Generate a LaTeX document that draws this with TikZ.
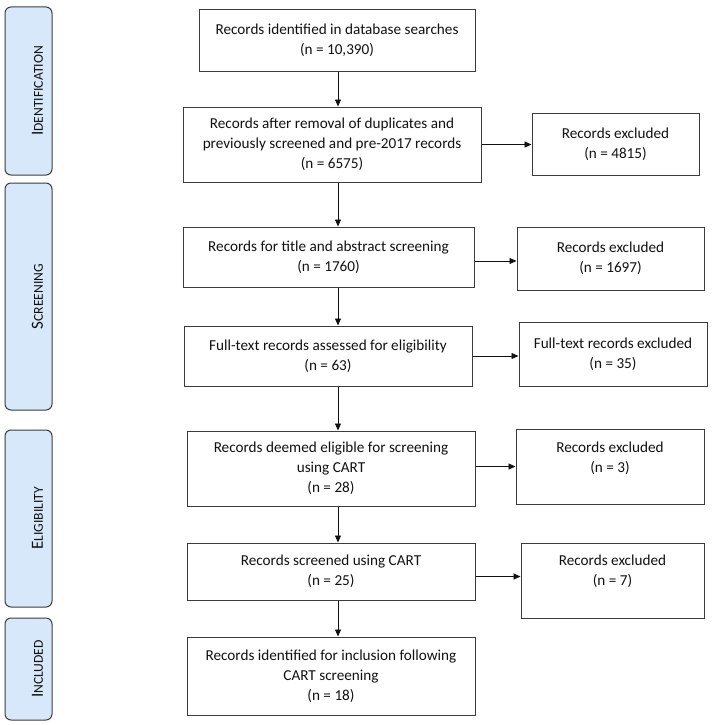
\documentclass[tikz,border=0pt]{standalone}
\usepackage{fontspec}
\setmainfont{Carlito}
\usetikzlibrary{arrows.meta,calc}
\definecolor{edge}{HTML}{3C3C3C}
\definecolor{phasefill}{HTML}{D6E8FA}
\definecolor{ink}{HTML}{111111}
\tikzset{
  box/.style={draw=edge, line width=1pt, rectangle, inner sep=0pt, align=center,
    font=\fontsize{15.2}{20}\selectfont, text=ink},
  phase/.style={draw=edge, line width=1pt, rectangle, rounded corners=6pt, fill=phasefill, inner sep=0pt},
  phaselabel/.style={rotate=90, text=ink, inner sep=0pt},
  arr/.style={draw=ink, line width=0.9pt, -{Triangle[length=7pt,width=6pt]}},
}
\newcommand{\fsc}[2]{{\fontsize{17}{18}\selectfont #1}{\fontsize{13.6}{14}\selectfont #2}}
\begin{document}
\begin{tikzpicture}[x=1pt,y=1pt]
\useasboundingbox (0,0) rectangle (716,-725);
% phases
\node[phase, minimum width=47, minimum height=168] (pid) at (28.5,-91) {};
\node[phase, minimum width=47, minimum height=227] (psc) at (28.5,-296.5) {};
\node[phase, minimum width=47, minimum height=177] (pel) at (28.5,-518.5) {};
\node[phase, minimum width=47, minimum height=102] (pin) at (28.5,-669) {};
\node[phaselabel] (lid) at ([xshift=9]pid.center) {\fsc{I}{DENTIFICATION}};
\node[phaselabel] (lsc) at ([xshift=9]psc.center) {\fsc{S}{CREENING}};
\node[phaselabel] (lel) at ([xshift=9]pel.center) {\fsc{E}{LIGIBILITY}};
\node[phaselabel] (lin) at ([xshift=9]pin.center) {\fsc{I}{NCLUDED}};
% main boxes
\node[box, minimum width=276, minimum height=61] (b1) at (337,-40.5) {Records identified in database searches\\(n = 10,390)};
\node[box, minimum width=298, minimum height=75] (b2) at (332,-144.5) {Records after removal of duplicates and\\previously screened and pre-2017 records\\(n = 6575)};
\node[box, minimum width=167, minimum height=62] (e1) at (615.5,-144) {Records excluded\\(n = 4815)};
\node[box, minimum width=291, minimum height=60] (b3) at (328.5,-257) {Records for title and abstract screening\\(n = 1760)};
\node[box, minimum width=187, minimum height=63] (e2) at (610.5,-258.5) {Records excluded\\(n = 1697)};
\node[box, minimum width=288, minimum height=60] (b4) at (328,-356) {Full-text records assessed for eligibility\\(n = 63)};
\node[box, minimum width=188, minimum height=64] (e3) at (613,-354) {Full-text records excluded\\(n = 35)};
\node[box, minimum width=288, minimum height=75] (b5) at (331,-468.5) {Records deemed eligible for screening\\using CART\\(n = 28)};
\node[box, minimum width=188, minimum height=75] (e4) at (610,-466.5) {Records excluded\\(n = 3)\\[-7pt]\strut};
\node[box, minimum width=288, minimum height=57] (b6) at (331,-571.5) {Records screened using CART\\(n = 25)};
\node[box, minimum width=183, minimum height=75] (e5) at (612.5,-580.5) {Records excluded\\(n = 7)\\[-5pt]\strut};
\node[box, minimum width=288, minimum height=78] (b7) at (331,-676) {Records identified for inclusion following\\CART screening\\(n = 18)};
% vertical connector line
\coordinate (ax) at (338,0);
\draw[arr] (b1.south -| ax) -- (b2.north -| ax);
\draw[arr] (b2.south -| ax) -- (b3.north -| ax);
\draw[arr] (b3.south -| ax) -- (b4.north -| ax);
\draw[arr] (b4.south -| ax) -- (b5.north -| ax);
\draw[arr] (b5.south -| ax) -- (b6.north -| ax);
\draw[arr] (b6.south -| ax) -- (b7.north -| ax);
% horizontal
\draw[arr] (b2.east) -- (b2.east -| e1.west);
\draw[arr] ([yshift=-4]b3.east) -- ([yshift=-4]b3.east -| e2.west);
\draw[arr] (b4.east) -- (b4.east -| e3.west);
\draw[arr] ([yshift=2]b5.east) -- ([yshift=2]b5.east -| e4.west);
\draw[arr] ([yshift=-5]b6.east) -- ([yshift=-5]b6.east -| e5.west);
\end{tikzpicture}
\end{document}
